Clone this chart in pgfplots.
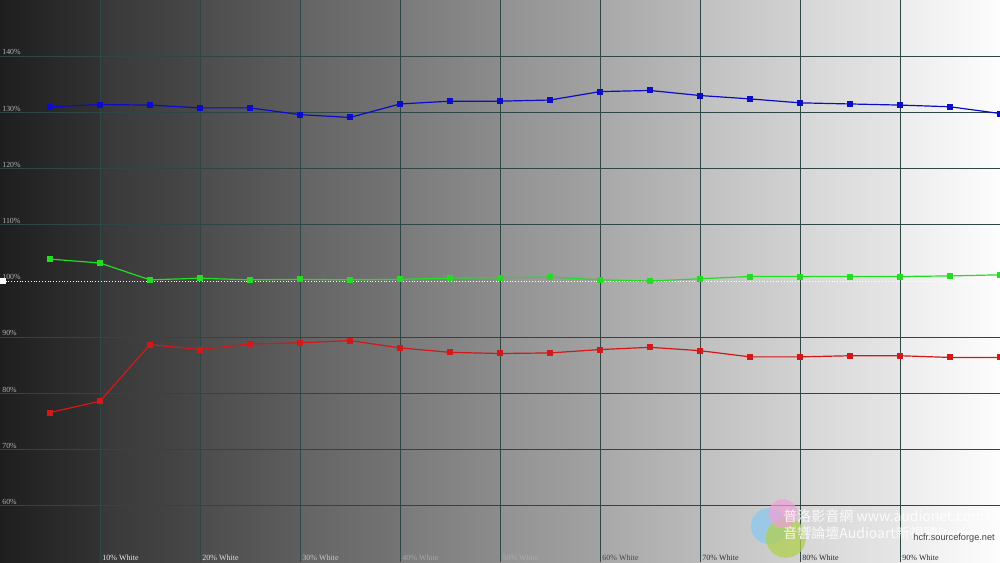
\documentclass[border=0pt]{standalone}
\usepackage{fontspec}
\setmainfont{Liberation Serif}
\newfontfamily\cjk{Noto Sans CJK TC}
\newfontfamily\wsans{Liberation Sans}
\usepackage{pgfplots}
\pgfplotsset{compat=1.18}
\definecolor{gridc}{HTML}{2E4646}
\definecolor{bluec}{HTML}{0C0CC8}
\definecolor{greenc}{HTML}{22DD22}
\definecolor{redc}{HTML}{D21818}
\definecolor{ylab}{HTML}{B4B4B4}
\definecolor{wmblue}{HTML}{8EC8EC}
\definecolor{wmpink}{HTML}{F0A0D8}
\definecolor{wmgreen}{HTML}{B0D050}
\begin{document}
\begin{tikzpicture}
\begin{axis}[
  scale only axis, width=500pt, height=281pt,
  xmin=0, xmax=100, ymin=50, ymax=150,
  hide axis,
]
% background bands
\fill[left color={rgb,255:red,30;green,30;blue,30}, right color={rgb,255:red,50;green,50;blue,50}] (axis cs:0,50) rectangle (axis cs:10,150);
\fill[left color={rgb,255:red,56;green,56;blue,56}, right color={rgb,255:red,72;green,72;blue,72}] (axis cs:10,50) rectangle (axis cs:20,150);
\fill[left color={rgb,255:red,76;green,76;blue,76}, right color={rgb,255:red,94;green,94;blue,94}] (axis cs:20,50) rectangle (axis cs:30,150);
\fill[left color={rgb,255:red,100;green,100;blue,100}, right color={rgb,255:red,116;green,116;blue,116}] (axis cs:30,50) rectangle (axis cs:40,150);
\fill[left color={rgb,255:red,122;green,122;blue,122}, right color={rgb,255:red,140;green,140;blue,140}] (axis cs:40,50) rectangle (axis cs:50,150);
\fill[left color={rgb,255:red,146;green,146;blue,146}, right color={rgb,255:red,162;green,162;blue,162}] (axis cs:50,50) rectangle (axis cs:60,150);
\fill[left color={rgb,255:red,168;green,168;blue,168}, right color={rgb,255:red,186;green,186;blue,186}] (axis cs:60,50) rectangle (axis cs:70,150);
\fill[left color={rgb,255:red,192;green,192;blue,192}, right color={rgb,255:red,210;green,210;blue,210}] (axis cs:70,50) rectangle (axis cs:80,150);
\fill[left color={rgb,255:red,214;green,214;blue,214}, right color={rgb,255:red,230;green,230;blue,230}] (axis cs:80,50) rectangle (axis cs:90,150);
\fill[left color={rgb,255:red,236;green,236;blue,236}, right color={rgb,255:red,253;green,253;blue,253}] (axis cs:90,50) rectangle (axis cs:100,150);
% grid
\pgfplotsinvokeforeach{10,20,30,40,50,60,70,80,90}{\draw[gridc, line width=0.5pt] (axis cs:#1,50) -- (axis cs:#1,150);}
\pgfplotsinvokeforeach{60,70,80,90,110,120,130,140}{\draw[gridc, line width=0.5pt] (axis cs:0,#1) -- (axis cs:100,#1);}
% 100% reference
\addplot[white, line width=0.4pt, densely dotted, forget plot] coordinates {(0,100) (100,100)};
\addplot[only marks, mark=square*, mark size=1.1pt, white, forget plot] coordinates {(0.3,100)};
% y labels
\pgfplotsinvokeforeach{60,70,80,90,100,110,120,130,140}{
  \node[anchor=south west, inner sep=0pt, text=ylab, font=\fontsize{3.9}{4}\selectfont] at (axis cs:0.2,#1) {\raisebox{0.4pt}{#1\%}};
}
% x labels
\node[anchor=south west, inner sep=0pt, text={rgb,255:red,235;green,235;blue,235}, font=\fontsize{4}{4}\selectfont] at (axis cs:10.2,50.15) {10\% White};
\node[anchor=south west, inner sep=0pt, text={rgb,255:red,225;green,225;blue,225}, font=\fontsize{4}{4}\selectfont] at (axis cs:20.2,50.15) {20\% White};
\node[anchor=south west, inner sep=0pt, text={rgb,255:red,200;green,200;blue,200}, font=\fontsize{4}{4}\selectfont] at (axis cs:30.2,50.15) {30\% White};
\node[anchor=south west, inner sep=0pt, text={rgb,255:red,168;green,168;blue,168}, font=\fontsize{4}{4}\selectfont] at (axis cs:40.2,50.15) {40\% White};
\node[anchor=south west, inner sep=0pt, text={rgb,255:red,172;green,172;blue,172}, font=\fontsize{4}{4}\selectfont] at (axis cs:50.2,50.15) {50\% White};
\node[anchor=south west, inner sep=0pt, text={rgb,255:red,70;green,70;blue,70}, font=\fontsize{4}{4}\selectfont] at (axis cs:60.2,50.15) {60\% White};
\node[anchor=south west, inner sep=0pt, text={rgb,255:red,50;green,50;blue,50}, font=\fontsize{4}{4}\selectfont] at (axis cs:70.2,50.15) {70\% White};
\node[anchor=south west, inner sep=0pt, text={rgb,255:red,40;green,40;blue,40}, font=\fontsize{4}{4}\selectfont] at (axis cs:80.2,50.15) {80\% White};
\node[anchor=south west, inner sep=0pt, text={rgb,255:red,40;green,40;blue,40}, font=\fontsize{4}{4}\selectfont] at (axis cs:90.2,50.15) {90\% White};
% data
\addplot[bluec, line width=0.6pt, mark=square*, mark size=1.2pt] coordinates {
(5,131.0) (10,131.4) (15,131.3) (20,130.8) (25,130.8) (30,129.6) (35,129.1) (40,131.5) (45,132.0) (50,132.0)
(55,132.2) (60,133.7) (65,133.9) (70,133.0) (75,132.4) (80,131.7) (85,131.5) (90,131.3) (95,131.0) (100,129.8)};
\addplot[greenc, line width=0.6pt, mark=square*, mark size=1.2pt] coordinates {
(5,103.9) (10,103.2) (15,100.2) (20,100.5) (25,100.2) (30,100.3) (35,100.2) (40,100.3) (45,100.5) (50,100.6)
(55,100.7) (60,100.2) (65,100.0) (70,100.4) (75,100.8) (80,100.8) (85,100.8) (90,100.8) (95,100.9) (100,101.1)};
\addplot[redc, line width=0.6pt, mark=square*, mark size=1.2pt] coordinates {
(5,76.6) (10,78.6) (15,88.7) (20,87.8) (25,88.8) (30,89.0) (35,89.4) (40,88.1) (45,87.3) (50,87.1)
(55,87.2) (60,87.8) (65,88.2) (70,87.6) (75,86.5) (80,86.5) (85,86.7) (90,86.7) (95,86.4) (100,86.4)};
% watermark
\fill[wmblue, opacity=0.8] (axis cs:76.9,56.4) circle[radius=9pt];
\fill[wmgreen, opacity=0.75] (axis cs:78.6,54.3) circle[radius=10pt];
\fill[wmpink, opacity=0.7] (axis cs:78.3,58.6) circle[radius=7.2pt];
\node[anchor=west, inner sep=0pt, text=white, opacity=0.85, font=\cjk\fontsize{7}{7}\selectfont] at (axis cs:78.3,58.2) {普洛影音網 www.audionet.com.tw};
\node[anchor=west, inner sep=0pt, text=white, opacity=0.85, font=\cjk\fontsize{7}{7}\selectfont] at (axis cs:78.3,55.2) {音響論壇Audioart新視聽Prime AV};
\node[anchor=west, inner sep=0pt, text={rgb,255:red,70;green,70;blue,70}, font=\wsans\fontsize{4.6}{5}\selectfont] at (axis cs:91.3,54.3) {hcfr.sourceforge.net};
\end{axis}
\pgfresetboundingbox
\useasboundingbox (current axis.south west) rectangle (current axis.north east);
\end{tikzpicture}
\end{document}
